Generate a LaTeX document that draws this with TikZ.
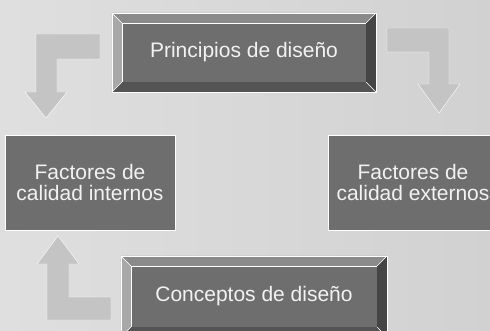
\documentclass[tikz,border=0pt]{standalone}
\usepackage{fontspec}
\setmainfont{Liberation Sans}
\usepackage{tikz}
\usetikzlibrary{positioning}

\definecolor{bgleft}{gray}{0.875}
\definecolor{bgright}{gray}{0.82}
\definecolor{facegray}{gray}{0.43}
\definecolor{arrowgray}{gray}{0.77}
\definecolor{bevtop}{gray}{0.54}
\definecolor{bevleft}{gray}{0.66}
\definecolor{bevbot}{gray}{0.33}
\definecolor{bevright}{gray}{0.27}
\definecolor{txtgray}{gray}{0.95}

% bevel round a face node: #1 node name, #2 bevel width
\newcommand{\bevelaround}[2]{%
  \fill[bevtop] (#1.north west) -- (#1.north east) -- ([shift={(#2,-#2)}]#1.north east) -- ([shift={(-#2,-#2)}]#1.north west) -- cycle;
  \fill[bevleft] (#1.north west) -- (#1.south west) -- ([shift={(-#2,#2)}]#1.south west) -- ([shift={(-#2,-#2)}]#1.north west) -- cycle;
  \fill[bevbot] (#1.south west) -- (#1.south east) -- ([shift={(#2,#2)}]#1.south east) -- ([shift={(-#2,#2)}]#1.south west) -- cycle;
  \fill[bevright] (#1.north east) -- (#1.south east) -- ([shift={(#2,#2)}]#1.south east) -- ([shift={(#2,-#2)}]#1.north east) -- cycle;
  \draw[white,thin] ([shift={(-#2,-#2)}]#1.north west) rectangle ([shift={(#2,#2)}]#1.south east);
  \foreach \c/\dx/\dy in {north west/-1/-1,north east/1/-1,south west/-1/1,south east/1/1}
    \draw[white,thin] (#1.\c) -- ([shift={(\dx*#2,\dy*#2)}]#1.\c);
}

\begin{document}
\begin{tikzpicture}[x=1pt,y=-1pt,
    face/.style={draw=white,thin,fill=facegray,text=txtgray,inner sep=0pt,
      font=\fontsize{21}{21.5}\selectfont,align=center},
    blockarrow/.style={draw=white,thin,fill=arrowgray}]
    \useasboundingbox (0,0) rectangle (490,331);
    \fill[left color=bgleft,right color=bgright] (0,0) rectangle (490,331);

    % beveled boxes
    \node[face,minimum width=244pt,minimum height=59pt] (princ) at (244,52.5) {Principios de diseño};
    \bevelaround{princ}{10}
    \node[face,minimum width=246pt,minimum height=61pt] (concep) at (254,296.5) {Conceptos de diseño};
    \bevelaround{concep}{10}

    % flat boxes
    \node[face,minimum width=170pt,minimum height=95pt] (intern) at (90,182.5) {Factores de\\calidad internos};
    \node[face,minimum width=170pt,minimum height=95pt] (extern) at (413,182.5) {Factores de\\calidad externos};

    % elbow arrows
    \draw[blockarrow] (100,34) -- (36,34) -- (36,92) -- (25,92) -- (46,118) -- (67,92) -- (57,92) -- (57,59) -- (100,59) -- cycle;
    \draw[blockarrow] (387,28) -- (449,28) -- (449,84) -- (460,84) -- (439,113) -- (418,84) -- (429,84) -- (429,52) -- (387,52) -- cycle;
    \draw[blockarrow] (111,320) -- (47,320) -- (47,264) -- (37,264) -- (58,236) -- (79,264) -- (69,264) -- (69,297) -- (111,297) -- cycle;
\end{tikzpicture}
\end{document}
